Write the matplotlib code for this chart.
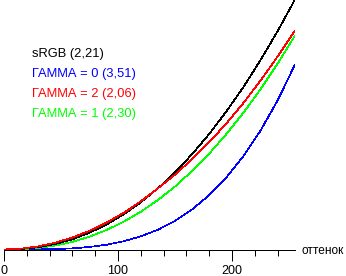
import matplotlib
matplotlib.use("Agg")
import matplotlib.pyplot as plt
from matplotlib.ticker import MultipleLocator

plt.rcParams["font.family"] = ["Liberation Sans", "DejaVu Sans"]

# оттенок (0..255) и относительная яркость
otten = [0, 15, 30, 45, 60, 75, 90, 105, 120, 135, 150, 165, 180, 195, 210, 225, 240, 255]
srgb = [0, .002, .009, .022, .041, .067, .100, .141, .189, .245, .309, .382, .463, .553, .651, .759, .875, 1.0]
gamma0 = [0, 0, .0004, .0017, .0046, .0101, .0191, .0329, .0527, .0793, .1146, .1605, .2179, .2884, .3740, .4764, .5973, .739]
gamma2 = [0, .0035, .0125, .0275, .0480, .0750, .1080, .1470, .1930, .2450, .3000, .3620, .4300, .5050, .5872, .6771, .7733, .876]
gamma1 = [0, .0013, .0062, .0158, .0307, .0513, .0782, .1114, .1512, .1982, .2524, .3148, .3844, .4623, .5480, .6421, .7446, .856]

legenda = ["sRGB (2,21)", "ГАММА = 0 (3,51)", "ГАММА = 2 (2,06)", "ГАММА = 1 (2,30)"]
cveta = ["#000000", "#0000ff", "#ff0000", "#00ff00"]

W, H = 346, 276
fig = plt.figure(figsize=(W / 100, H / 100), dpi=100)
ax = fig.add_axes([4 / W, 26.5 / H, 290.7 / W, 249.5 / H])

for ys, c in [(gamma0, cveta[1]), (gamma1, cveta[3]), (srgb, cveta[0]), (gamma2, cveta[2])]:
    ax.plot(otten, ys, color=c, lw=0.5, antialiased=False)

ax.set_xlim(0, 255)
ax.set_ylim(0, 1.0)
for s in ["top", "right", "left"]:
    ax.spines[s].set_visible(False)
ax.spines["bottom"].set_linewidth(0.72)
ax.spines["bottom"].set_antialiased(False)
ax.set_yticks([])
ax.xaxis.set_major_locator(MultipleLocator(100))
ax.xaxis.set_minor_locator(MultipleLocator(20))
ax.tick_params(axis="x", which="major", length=8, width=0.72, pad=3, labelsize=9)
ax.tick_params(axis="x", which="minor", length=4.3, width=0.72)

fig.text(301 / W, 22 / H, "оттенок", fontsize=8.6, va="baseline", ha="left")

for i, (t, c) in enumerate(zip(legenda, cveta)):
    fig.text(32 / W, 1 - (57 + 20 * i) / H, t, color=c, fontsize=9.3, va="baseline", ha="left")

fig.savefig("out.png", dpi=100)
